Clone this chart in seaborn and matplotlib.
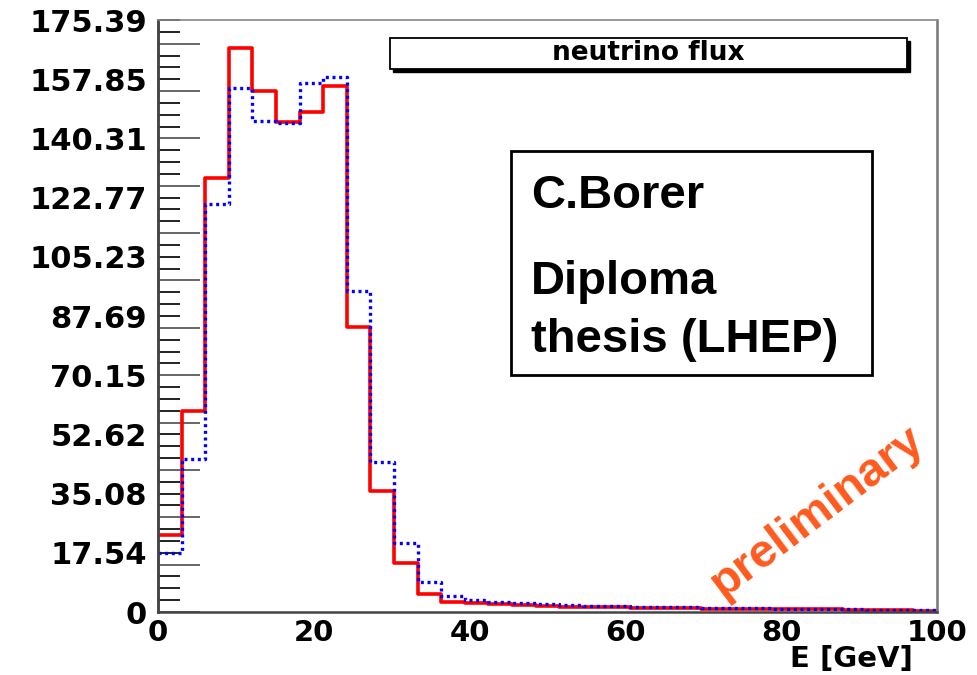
import numpy as np
import pandas as pd
import matplotlib
matplotlib.use("Agg")
import matplotlib.pyplot as plt
import seaborn as sns
from matplotlib.patches import Rectangle
from matplotlib.ticker import FixedLocator, MultipleLocator, NullFormatter

# ---------------- data ----------------
x_min, x_max, n_bins = 0.0, 100.0, 33
red_flux = [22.8, 59.6, 128.7, 167.0, 154.5, 145.3, 148.0, 155.9, 84.4, 35.9, 14.6, 5.2,
            3.0, 2.6, 2.3, 2.0, 1.8, 1.6, 1.5, 1.4, 1.3, 1.2, 1.1, 1.0, 1.0, 0.9, 0.9,
            0.8, 0.8, 0.7, 0.7, 0.6, 0.3]
blue_flux = [17.6, 45.2, 120.8, 155.2, 145.5, 144.8, 156.6, 158.4, 95.1, 44.3, 20.3, 8.8,
             4.8, 3.6, 3.1, 2.6, 2.3, 2.1, 1.9, 1.8, 1.6, 1.5, 1.4, 1.3, 1.2, 1.1, 1.0,
             0.9, 0.9, 0.8, 0.7, 0.6, 0.5]
y_max = 175.39
ytick_values = [0, 17.54, 35.08, 52.62, 70.15, 87.69, 105.23, 122.77, 140.31, 157.85, 175.39]
ytick_labels = ["0", "17.54", "35.08", "52.62", "70.15", "87.69", "105.23", "122.77",
                "140.31", "157.85", "175.39"]
xtick_values = [0, 20, 40, 60, 80, 100]
xtick_labels = ["0", "20", "40", "60", "80", "100"]
x_label = "E [GeV]"
title_text = "neutrino flux"
note_lines = ["C.Borer", "Diploma", "thesis (LHEP)"]
stamp_text = "preliminary"

edges = np.linspace(x_min, x_max, n_bins + 1).tolist()
centers = [0.5 * (a + b) for a, b in zip(edges[:-1], edges[1:])]
df = pd.DataFrame({"E": centers, "red": red_flux, "blue": blue_flux})

# ---------------- style ----------------
sns.set_style("white")
plt.rcParams["font.family"] = ["DejaVu Sans"]
plt.rcParams["text.color"] = "black"
plt.rcParams["xtick.color"] = "black"
plt.rcParams["ytick.color"] = "black"
plt.rcParams["axes.labelcolor"] = "black"

W, H = 978, 675
fig = plt.figure(figsize=(W / 100, H / 100), dpi=100)
fig.patch.set_facecolor("white")
L, R, T, B = 158, 937, 20, 612
ax = fig.add_axes([L / W, 1 - B / H, (R - L) / W, (B - T) / H])

sns.histplot(data=df, x="E", weights="red", bins=edges, element="step", fill=False,
             color="#ff0000", linewidth=2.6, ax=ax)
sns.histplot(data=df, x="E", weights="blue", bins=edges, element="step", fill=False,
             color="#0000ff", linewidth=2.4, linestyle=(0, (0.9, 1.1)), ax=ax)

ax.set_xlim(x_min, x_max)
ax.set_ylim(0, y_max)
ax.set_xlabel("")
ax.set_ylabel("")

for side, sp in ax.spines.items():
    sp.set_visible(True)
    sp.set_color("#444444")
    sp.set_linewidth(1.8)
ax.spines["top"].set_color("#888888")
ax.spines["top"].set_linewidth(1.2)
ax.spines["right"].set_color("#777777")

# x ticks
ax.xaxis.set_major_locator(FixedLocator(xtick_values))
ax.set_xticklabels(xtick_labels)
ax.xaxis.set_minor_locator(MultipleLocator(5))
ax.tick_params(axis="x", which="major", direction="in", length=12, width=1.6,
               color="#333333", labelcolor="black", pad=5, labelsize=21)
ax.tick_params(axis="x", which="minor", direction="in", length=6.5, width=1.4,
               color="#333333")
for t in ax.get_xticklabels():
    t.set_fontweight("bold")

# y labels (no tick marks)
ax.yaxis.set_major_locator(FixedLocator(ytick_values))
ax.set_yticklabels(ytick_labels)
ax.yaxis.set_minor_locator(FixedLocator([]))
ax.tick_params(axis="y", which="major", length=0, pad=8, labelsize=22,
               labelcolor="black")
for t in ax.get_yticklabels():
    t.set_fontweight("bold")

# y tick comb on a secondary axis
sec = ax.secondary_yaxis("left")
sec.yaxis.set_major_locator(MultipleLocator(y_max / 12.5))
sec.yaxis.set_minor_locator(MultipleLocator(y_max / 50))
sec.yaxis.set_major_formatter(NullFormatter())
sec.tick_params(axis="y", which="major", direction="in", length=30, width=1.4,
                color="#666666")
sec.tick_params(axis="y", which="minor", direction="in", length=16, width=1.4,
                color="#222222")
sec.spines["left"].set_color("#444444")
sec.spines["left"].set_linewidth(1.8)

fig.text(913 / W, 1 - 673 / H, x_label, ha="right", va="bottom", fontsize=21,
         fontweight="bold", color="black")

# title pave with shadow
tx0, tx1, ty0, ty1 = 390, 907, 38, 69
fig.add_artist(Rectangle(((tx0 + 3) / W, 1 - (ty1 + 3) / H), (tx1 - tx0) / W,
                         (ty1 - ty0) / H, transform=fig.transFigure,
                         facecolor="black", edgecolor="black", linewidth=1))
fig.add_artist(Rectangle((tx0 / W, 1 - ty1 / H), (tx1 - tx0) / W, (ty1 - ty0) / H,
                         transform=fig.transFigure, facecolor="white",
                         edgecolor="black", linewidth=1.3))
fig.text((tx0 + tx1) / 2 / W, 1 - (ty0 + ty1) / 2 / H, title_text, ha="center",
         va="center", fontsize=19, fontweight="bold", color="black")

# note box
bx0, bx1, by0, by1 = 511, 872, 151, 375
fig.add_artist(Rectangle((bx0 / W, 1 - by1 / H), (bx1 - bx0) / W, (by1 - by0) / H,
                         transform=fig.transFigure, facecolor="white",
                         edgecolor="black", linewidth=2))
for line, base in zip(note_lines, [208, 294, 352]):
    fig.text(531 / W, 1 - base / H, line, ha="left", va="baseline", fontsize=34,
             fontweight="bold", color="black",
             family=["Liberation Sans", "DejaVu Sans"])

fig.text(817 / W, 1 - 512 / H, stamp_text, ha="center", va="center", rotation=37,
         rotation_mode="anchor", fontsize=34, fontweight="bold", color="#ff5a1f",
         family=["Liberation Sans", "DejaVu Sans"])

fig.savefig("out.png", dpi=100, facecolor="white")
